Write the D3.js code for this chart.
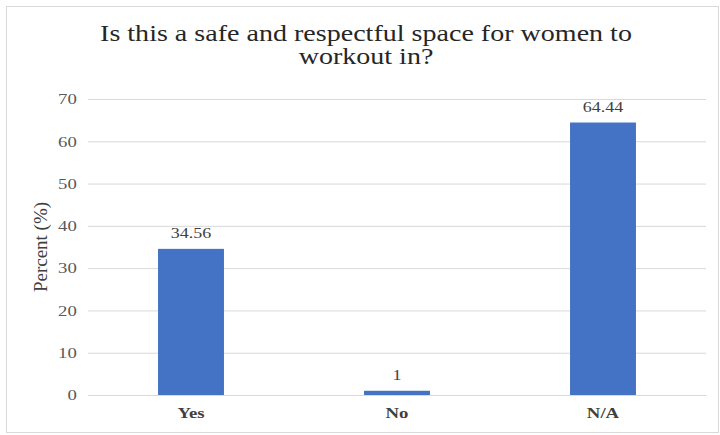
<!DOCTYPE html>
<html>
<head>
<meta charset="utf-8">
<script src="https://cdn.jsdelivr.net/npm/d3@7"></script>
<style>
  html, body { margin: 0; padding: 0; background: #fff; }
  svg { display: block; }
</style>
</head>
<body>
<svg id="chart" width="720" height="435"></svg>
<script>
// Survey responses, percent of respondents
const categories = ["Yes", "No", "N/A"];
const percents = [34.56, 1, 64.44];
const valueLabels = ["34.56", "1", "64.44"];
const yTicks = [0, 10, 20, 30, 40, 50, 60, 70];
const titleLines = ["Is this a safe and respectful space for women to", "workout in?"];
const yAxisTitle = "Percent (%)";

const FONT = '"Liberation Serif", "Times New Roman", serif';
const svg = d3.select("#chart");
const W = 720, H = 435;
const margin = { top: 99, right: 14, bottom: 40, left: 88 };
const plotW = W - margin.left - margin.right;
const plotH = H - margin.top - margin.bottom;

// outer frame
svg.append("rect")
  .attr("x", 6.5).attr("y", 6.5)
  .attr("width", 712).attr("height", 426)
  .attr("fill", "#fff").attr("stroke", "#d9d9d9").attr("stroke-width", 1);

const x = d3.scaleBand()
  .domain(categories)
  .range([0, plotW])
  .paddingInner(0.68)
  .paddingOuter(0.34);

const y = d3.scaleLinear().domain([0, 70]).range([plotH, 0]);

const g = svg.append("g").attr("transform", `translate(${margin.left},${margin.top})`);

// horizontal gridlines
g.append("g")
  .call(d3.axisLeft(y).tickValues(yTicks).tickSize(-plotW).tickFormat(""))
  .call(a => a.select(".domain").remove())
  .call(a => a.selectAll("line").attr("stroke", "#d9d9d9").attr("stroke-width", 1));

// y tick labels (slightly wide face)
g.append("g")
  .call(d3.axisLeft(y).tickValues(yTicks).tickSize(0).tickPadding(9))
  .call(a => a.select(".domain").remove())
  .call(a => a.selectAll("text")
    .style("font-family", FONT)
    .attr("font-size", 15).attr("fill", "#595959")
    .attr("transform", "scale(1.25,1)"));

// bars
g.selectAll("rect.bar")
  .data(categories)
  .join("rect")
  .attr("class", "bar")
  .attr("x", d => x(d))
  .attr("width", x.bandwidth())
  .attr("y", (d, i) => y(percents[i]))
  .attr("height", (d, i) => plotH - y(percents[i]))
  .attr("fill", "#4472c4");

// value labels
g.selectAll("text.val")
  .data(categories)
  .join("text")
  .attr("class", "val")
  .attr("transform", (d, i) => `translate(${x(d) + x.bandwidth() / 2},${y(percents[i]) - 11}) scale(1.2,1)`)
  .attr("text-anchor", "middle")
  .style("font-family", FONT)
  .attr("font-size", 15)
  .attr("fill", "#404040")
  .text((d, i) => valueLabels[i]);

// x axis
g.append("g")
  .attr("transform", `translate(0,${plotH})`)
  .call(d3.axisBottom(x).tickSize(0))
  .call(a => a.select(".domain").attr("stroke", "#d9d9d9"))
  .call(a => a.selectAll("text")
    .attr("y", 23).attr("dy", null)
    .style("font-family", FONT)
    .attr("font-size", 15).attr("font-weight", "bold").attr("fill", "#404040")
    .attr("transform", "scale(1.25,1)"));

// y axis title
svg.append("text")
  .attr("transform", `translate(47,${margin.top + plotH / 2}) rotate(-90)`)
  .attr("text-anchor", "middle")
  .style("font-family", FONT)
  .attr("font-size", 19)
  .attr("fill", "#404040")
  .text(yAxisTitle);

// chart title
svg.selectAll("text.title")
  .data(titleLines)
  .join("text")
  .attr("class", "title")
  .attr("transform", (d, i) => `translate(366,${41 + i * 23}) scale(1.22,1)`)
  .attr("text-anchor", "middle")
  .style("font-family", FONT)
  .attr("font-size", 23)
  .attr("fill", "#262626")
  .text(d => d);
</script>
</body>
</html>
